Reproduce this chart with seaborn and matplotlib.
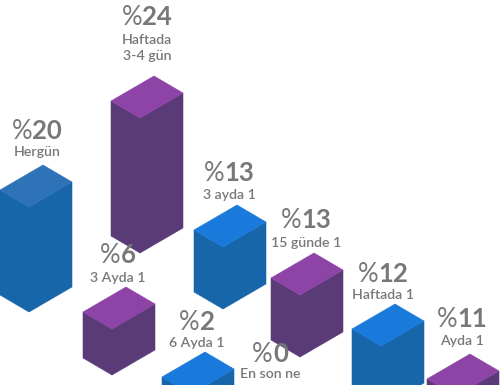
import pandas as pd
import seaborn as sns
import matplotlib.pyplot as plt
from matplotlib.transforms import Affine2D

# chart content, the %0 group has no bar
categories = ['Hergün', 'Haftada\n3-4 gün', '3 Ayda 1', '3 ayda 1', '6 Ayda 1',
              '15 günde 1', 'En son ne', 'Haftada 1', 'Ayda 1']
percents = [20, 24, 6, 13, 2, 13, 0, 12, 11]
# bar heights (the graphic is not to scale)
drawn_heights = [105, 135, 46, 62, 20, 62, 0, 62, 60]

# free-form infographic layout
front_x = [29, 140, 112, 223, 191, 300, 0, 381, 456]
front_base = [312, 253, 375, 309, 414, 357, 0, 408, 456]
text_x = [37, 147, 118, 229, 197, 306, 270, 383, 462]
percent_y = [139, 25, 263, 181, 330, 228, 362, 282, 327]
label_y = [156, 60, 282, 199, 347, 247, 378, 299, 345]

top_colors = ['#2e72b8', '#8e43a7', '#8e43a7', '#1a7adb', '#1a7adb',
              '#8e43a7', '#ffffff', '#1a7adb', '#8e43a7']
side_colors = ['#1766aa', '#5a3b78', '#5a3b78', '#1766aa', '#1766aa',
               '#5a3b78', '#ffffff', '#1766aa', '#5a3b78']
left_edge = (-29, -17)
right_edge = (43, -25)
grey = '#77787b'

sns.set_theme(style='white')
plt.rcParams['font.family'] = ['Lato', 'DejaVu Sans']

df = pd.DataFrame({'category': categories, 'percent': percents, 'height': drawn_heights,
                   'fx': front_x, 'base': front_base, 'side': side_colors, 'top': top_colors})
bars = df[df['height'] > 0].reset_index(drop=True)

fig = plt.figure(figsize=(5, 3.85), dpi=100)
ax = fig.add_axes([0, 0, 1, 1])


#Maps a seaborn bar rectangle on to a parallelogram
def shear_patch(patch, origin, u, v):
    x0, y0 = patch.get_x(), patch.get_y()
    w, h = patch.get_width(), patch.get_height()
    m = [[u[0] / w, v[0] / h, origin[0] - x0 * u[0] / w - y0 * v[0] / h],
         [u[1] / w, v[1] / h, origin[1] - x0 * u[1] / w - y0 * v[1] / h],
         [0, 0, 1]]
    patch.set_transform(Affine2D(m) + ax.transData)
    patch.set_clip_path(ax.patch)


def draw_faces(y, palette):
    start = len(ax.patches)
    sns.barplot(data=bars.assign(face=y), x='category', y='face', hue='category',
                palette=palette, dodge=False, legend=False, ax=ax, linewidth=0.4,
                edgecolor=None, saturation=1)
    return ax.patches[start:]


left_faces = draw_faces(bars['height'], list(bars['side']))
right_faces = draw_faces(bars['height'], list(bars['side']))
top_faces = draw_faces(1, list(bars['top']))

ax.set_xlim(0, 500)
ax.set_ylim(385, 0)
ax.axis('off')

for i, row in bars.iterrows():
    front = (row['fx'], row['base'])
    up = (0, -row['height'])
    front_top = (row['fx'], row['base'] - row['height'])
    for patch, u, v, o in [(left_faces[i], left_edge, up, front),
                           (right_faces[i], right_edge, up, front),
                           (top_faces[i], left_edge, right_edge, front_top)]:
        shear_patch(patch, o, u, v)
        patch.set_edgecolor(patch.get_facecolor())

#Value and label above each bar, thin % sign with bold digits
renderer = fig.canvas.get_renderer()
for i, cat in enumerate(categories):
    sign = ax.text(text_x[i], percent_y[i], '%', fontsize=18.5, color=grey, ha='right',
                   va='baseline', fontweight='regular', zorder=5)
    num = ax.text(text_x[i], percent_y[i], str(percents[i]), fontsize=18.5, color=grey,
                  ha='left', va='baseline', fontweight='bold', zorder=5)
    shift = (num.get_window_extent(renderer).width - sign.get_window_extent(renderer).width) / 2
    sign.set_x(text_x[i] - shift)
    num.set_x(text_x[i] - shift)
    ax.text(text_x[i], label_y[i], cat, fontsize=10.2, color=grey, ha='center', va='baseline',
            fontweight='semibold', linespacing=1.45, zorder=5)

fig.savefig('out.png', dpi=100)
